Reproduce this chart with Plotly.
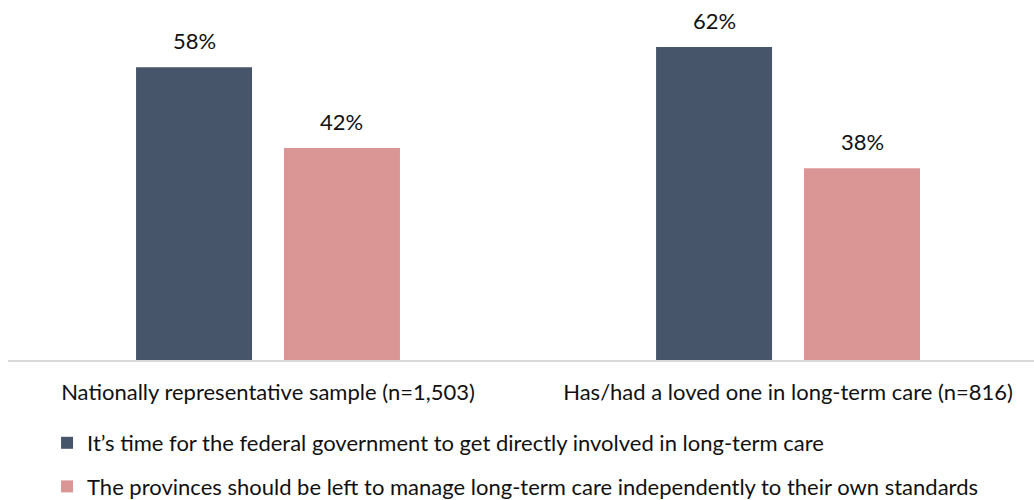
import plotly.graph_objects as go

categories = ["Nationally representative sample (n=1,503)",
              "Has/had a loved one in long-term care (n=816)"]
series_names = ["It’s time for the federal government to get directly involved in long-term care",
                "The provinces should be left to manage long-term care independently to their own standards"]
federal = [58, 62]
provinces = [42, 38]
colors = ["#465569", "#DA9695"]

FONT = "Lato"
FS = 22
BARGAP = 0.431
xpos = list(range(len(categories)))

fig = go.Figure()
for i, (name, vals) in enumerate(zip(series_names, [federal, provinces])):
    fig.add_trace(go.Bar(
        x=xpos, y=vals, name=name,
        marker=dict(color=colors[i], line=dict(width=0)),
        legendgroup=f"g{i}",
    ))
    # value labels above each bar, offset to the bar's slot in its group
    slot = (1 - BARGAP) / 2
    dx = (i - 0.5) * slot
    for k, v in zip(xpos, vals):
        fig.add_annotation(x=k + dx, y=v, xref="x", yref="y", text=f"{v}%",
                           showarrow=False, yanchor="bottom", yshift=11,
                           font=dict(size=FS, family=FONT, color="#111111"))

fig.update_layout(
    width=1034, height=500,
    margin=dict(l=8, r=0, t=0, b=140, autoexpand=False),
    paper_bgcolor="white", plot_bgcolor="white",
    barmode="group", bargap=BARGAP, bargroupgap=0.216,
    font=dict(family=FONT, size=FS, color="#111111"),
    showlegend=True,
    legend=dict(orientation="v", xref="container", yref="container",
                x=0.0455, xanchor="left", y=0.156, yanchor="top",
                font=dict(size=FS, family=FONT, color="#111111"),
                tracegroupgap=12, itemclick=False, bgcolor="rgba(0,0,0,0)"),
    xaxis=dict(range=[-0.5, 1.473], showgrid=False, showline=True,
               linecolor="#D9D9D9", linewidth=1.5, ticks="",
               tickvals=xpos, ticktext=categories, automargin=False,
               ticklabelstandoff=12, zeroline=False,
               tickfont=dict(size=FS, family=FONT, color="#111111")),
    yaxis=dict(range=[0, 71.3], visible=False, showgrid=False),
)

fig.write_html("out.html")
